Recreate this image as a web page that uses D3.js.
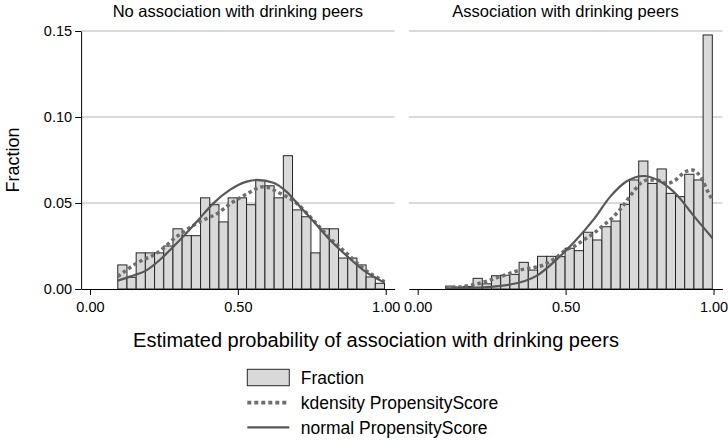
<!DOCTYPE html>
<html><head><meta charset="utf-8">
<script src="https://cdn.jsdelivr.net/npm/d3@7"></script>
<style>
body{margin:0;background:#fff}
svg{display:block}
text{font-family:"Liberation Sans",Arial,Helvetica,sans-serif;fill:#000}
</style>
</head><body>
<svg id="chart" width="728" height="442"></svg>
<script>
// ---------------- data ----------------
const panelTitles = ["No association with drinking peers", "Association with drinking peers"];
const yTicks = [0, 0.05, 0.10, 0.15];
const xTicks = [0, 0.5, 1];
const xTitle = "Estimated probability of association with drinking peers";
const yTitle = "Fraction";
const legendLabels = ["Fraction", "kdensity PropensityScore", "normal PropensityScore"];

const binStart = 0.094;
const binWidth = 0.0311;

const fracNoAssoc = [0.014, 0.0068, 0.021, 0.021, 0.021, 0.025, 0.035, 0.031, 0.031, 0.053,
  0.049, 0.039, 0.053, 0.053, 0.049, 0.063, 0.060, 0.053, 0.0775, 0.046,
  0.042, 0.021, 0.035, 0.035, 0.018, 0.018, 0.014, 0.007, 0.0033];

const fracAssoc = [0.0017, 0.0012, 0.0015, 0.0062, 0.003, 0.0077, 0.008, 0.0085, 0.0155, 0.011,
  0.019, 0.019, 0.0188, 0.0237, 0.0223, 0.033, 0.0285, 0.0362, 0.0395, 0.0492,
  0.0634, 0.0744, 0.0614, 0.0698, 0.0556, 0.0537, 0.0667, 0.0634, 0.1477];

const kdensNoAssoc = [[0.094, 0.0072], [0.158, 0.015], [0.225, 0.0207], [0.293, 0.0304], [0.361, 0.0382],
  [0.44, 0.045], [0.47, 0.049], [0.53, 0.0552], [0.586, 0.0595], [0.643, 0.0556], [0.699, 0.0498],
  [0.755, 0.040], [0.812, 0.0295], [0.868, 0.0207], [0.924, 0.012], [0.996, 0.0042]];

const normNoAssoc = [[0.094, 0.0048], [0.135, 0.0072], [0.192, 0.011], [0.248, 0.0188], [0.304, 0.0285],
  [0.361, 0.0391], [0.417, 0.0498], [0.473, 0.0576], [0.53, 0.0624], [0.565, 0.0634], [0.62, 0.0618],
  [0.665, 0.0565], [0.71, 0.0479], [0.76, 0.0385], [0.812, 0.0285], [0.87, 0.019], [0.924, 0.011],
  [0.996, 0.0037]];

const kdensAssoc = [[0.093, 0.0004], [0.2, 0.0029], [0.279, 0.0072], [0.346, 0.011], [0.425, 0.014],
  [0.47, 0.0185], [0.5, 0.0227], [0.527, 0.0246], [0.561, 0.0285], [0.595, 0.0324], [0.629, 0.0372],
  [0.662, 0.042], [0.696, 0.0488], [0.725, 0.0556], [0.753, 0.0614], [0.781, 0.0634], [0.809, 0.0634],
  [0.843, 0.0614], [0.871, 0.0634], [0.905, 0.0682], [0.928, 0.0692], [0.956, 0.0653], [0.984, 0.0556],
  [0.997, 0.0517]];

const normAssoc = [[0.093, 0.0002], [0.2, 0.0008], [0.3125, 0.0026], [0.406, 0.0081], [0.475, 0.018],
  [0.53, 0.0275], [0.595, 0.0405], [0.651, 0.0537], [0.708, 0.0628], [0.764, 0.0657], [0.82, 0.0625],
  [0.877, 0.0545], [0.933, 0.0425], [0.997, 0.0295]];

// ---------------- drawing ----------------
const svg = d3.select("#chart");
const FONT = '"Liberation Sans",Arial,Helvetica,sans-serif';
const barFill = "#d9d9d9", barStroke = "#262626";
const kdColor = "#6e6e6e", nmColor = "#575757", gridColor = "#b4b4b4";

const y = d3.scaleLinear().domain([0, 0.15]).range([289, 31]);
const panels = [
  {title: panelTitles[0], frac: fracNoAssoc, kd: kdensNoAssoc, nm: normNoAssoc, range: [81.1, 394.6], yAxis: true},
  {title: panelTitles[1], frac: fracAssoc, kd: kdensAssoc, nm: normAssoc, range: [408.8, 722.4], yAxis: false}
];

panels.forEach(p => {
  const x = d3.scaleLinear().domain([-0.03, 1.03]).range(p.range);
  const g = svg.append("g");

  // gridlines
  g.selectAll("line.grid").data(yTicks.filter(d => d > 0)).join("line")
    .attr("x1", p.range[0]).attr("x2", p.range[1])
    .attr("y1", d => y(d)).attr("y2", d => y(d))
    .attr("stroke", gridColor).attr("stroke-width", 1);

  // bars
  g.selectAll("rect.bar").data(p.frac).join("rect")
    .attr("x", (d, i) => x(binStart + i * binWidth))
    .attr("width", (d, i) => x(binStart + (i + 1) * binWidth) - x(binStart + i * binWidth))
    .attr("y", d => y(d))
    .attr("height", d => y(0) - y(d))
    .attr("fill", barFill).attr("stroke", barStroke).attr("stroke-width", 1);

  const line = d3.line().x(d => x(d[0])).y(d => y(d[1])).curve(d3.curveMonotoneX);
  g.append("path").attr("d", line(p.kd)).attr("fill", "none")
    .attr("stroke", kdColor).attr("stroke-width", 3.5).attr("stroke-dasharray", "3.5,3");
  g.append("path").attr("d", line(p.nm)).attr("fill", "none")
    .attr("stroke", nmColor).attr("stroke-width", 2.2);

  // x axis
  const xa = g.append("g").attr("transform", "translate(0,289)")
    .call(d3.axisBottom(x).tickValues(xTicks).tickFormat(d3.format(".2f")).tickSize(6).tickSizeOuter(0).tickPadding(7));
  xa.selectAll("path,line").attr("stroke", "#000");
  xa.selectAll("text").attr("font-family", FONT).attr("font-size", "14.5px").attr("fill", "#000");

  if (p.yAxis) {
    const ya = g.append("g").attr("transform", `translate(${p.range[0]},0)`)
      .call(d3.axisLeft(y).tickValues(yTicks).tickFormat(d3.format(".2f")).tickSize(6).tickSizeOuter(0).tickPadding(3));
    ya.selectAll("path,line").attr("stroke", "#000");
    ya.selectAll("text").attr("font-family", FONT).attr("font-size", "14.5px").attr("fill", "#000");
  }

  // panel title
  g.append("text").attr("x", (p.range[0] + p.range[1]) / 2).attr("y", 17)
    .attr("text-anchor", "middle").attr("font-size", "16.5px").text(p.title);
});

// axis titles
svg.append("text").attr("transform", "translate(19,160) rotate(-90)")
  .attr("text-anchor", "middle").attr("font-size", "18px").text(yTitle);
svg.append("text").attr("x", 376).attr("y", 347)
  .attr("text-anchor", "middle").attr("font-size", "20px").text(xTitle);

// legend
const lg = svg.append("g");
const lx0 = 247.3, lx1 = 289.3, tx = 300.7;
const rowY = [377.5, 402.7, 427.3];
lg.append("rect").attr("x", lx0).attr("y", rowY[0] - 8.2).attr("width", lx1 - lx0).attr("height", 16.4)
  .attr("fill", barFill).attr("stroke", barStroke).attr("stroke-width", 1);
lg.append("line").attr("x1", lx0).attr("x2", lx1).attr("y1", rowY[1]).attr("y2", rowY[1])
  .attr("stroke", kdColor).attr("stroke-width", 3.8).attr("stroke-dasharray", "4,3");
lg.append("line").attr("x1", lx0).attr("x2", lx1).attr("y1", rowY[2]).attr("y2", rowY[2])
  .attr("stroke", nmColor).attr("stroke-width", 2.2);
lg.selectAll("text.leg").data(legendLabels).join("text")
  .attr("x", tx).attr("y", (d, i) => rowY[i] + 6.3)
  .attr("font-size", "17.5px").text(d => d);
</script>
</body></html>
